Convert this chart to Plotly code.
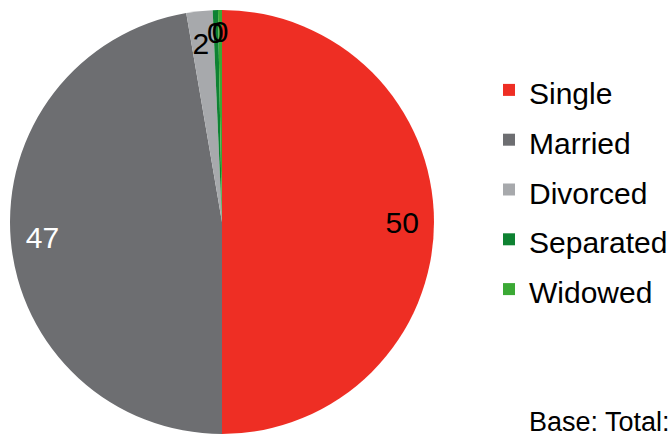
import plotly.graph_objects as go

categories = ["Single", "Married", "Divorced", "Separated", "Widowed"]
values = [50.0, 47.3, 2.0, 0.4, 0.3]
colors = ["#EE2E24", "#6D6E71", "#A7A9AC", "#0E8232", "#3BA935"]
label_colors = ["black", "white", "black", "black", "black"]
footnote = "Base: Total:"

legend_labels = ['<span style="font-size:30px">%s</span>' % c for c in categories]
label_templates = ["%{value:.0f}", "%{value:.0f}",
                   "&nbsp;<br>%{value:.0f}", "&nbsp;<br>%{value:.0f}", "&nbsp;<br>%{value:.0f}"]

dom = dict(x=[10 / 670, 434 / 670], y=[0, 424 / 434])
FONT = "Arial, Liberation Sans, sans-serif"

fig = go.Figure()
# coloured slices
fig.add_trace(go.Pie(
    labels=legend_labels,
    values=values,
    sort=False,
    direction="clockwise",
    rotation=0,
    marker=dict(colors=colors, line=dict(width=0)),
    textinfo="none",
    hoverinfo="skip",
    domain=dom,
))
# value labels placed near the rim
fig.add_trace(go.Pie(
    labels=legend_labels,
    values=values,
    sort=False,
    direction="clockwise",
    rotation=0,
    hole=0.7,
    marker=dict(colors=["rgba(0,0,0,0)"] * len(values), line=dict(width=0)),
    texttemplate=label_templates,
    textposition="inside",
    insidetextorientation="horizontal",
    textfont=dict(family=FONT, size=30, color=label_colors),
    hoverinfo="skip",
    showlegend=False,
    domain=dom,
))

fig.update_layout(
    width=670,
    height=434,
    margin=dict(l=0, r=0, t=0, b=0, autoexpand=False),
    paper_bgcolor="white",
    plot_bgcolor="white",
    uniformtext=dict(minsize=30, mode="show"),
    font=dict(family=FONT, color="black"),
    legend=dict(
        x=489 / 670, xanchor="left",
        y=1 - 60 / 434, yanchor="top",
        font=dict(size=36, color="black"),
        bgcolor="rgba(0,0,0,0)",
        itemclick=False,
    ),
    annotations=[dict(
        text=footnote, x=527 / 670, xref="paper", xanchor="left",
        y=(434 - 422) / 434, yref="paper", yanchor="middle",
        showarrow=False, font=dict(size=27, color="black"),
    )],
)

fig.write_html(
    "out.html",
    config={"displayModeBar": False},
    post_script="document.body.style.margin='0';document.body.style.overflow='hidden';",
)
